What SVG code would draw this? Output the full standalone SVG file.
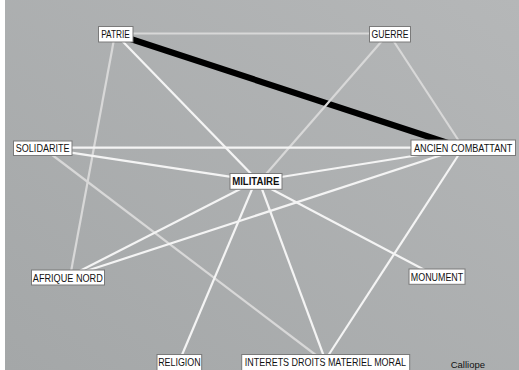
<svg xmlns="http://www.w3.org/2000/svg" width="519" height="370" viewBox="0 0 519 370">
<defs>
<linearGradient id="bg" x1="0" y1="1" x2="1" y2="0">
<stop offset="0" stop-color="#a4a7a8"/>
<stop offset="1" stop-color="#b5b7b8"/>
</linearGradient>
<style>
.e{stroke:#f4f4f4;stroke-width:2.2;fill:none}
.l{stroke:#d8d8d8;stroke-width:2.2;fill:none}
.k{stroke:#000;stroke-width:6.2;fill:none}
.b{fill:#fff;stroke:#7a7a7a;stroke-width:1}
.t{font-family:"Liberation Sans",Arial,sans-serif;font-size:11px;fill:#111;text-anchor:middle}
.m{font-weight:bold}
</style>
</defs>
<rect x="0" y="0" width="519" height="370" fill="#fff"/>
<rect x="5" y="0" width="514" height="370" fill="url(#bg)"/>
<g id="connectors">
<line class="k" x1="115.5" y1="34" x2="463" y2="148"/>
<line class="l" x1="115.5" y1="33.5" x2="390" y2="33.5"/>
<line class="e" x1="115.5" y1="34" x2="258" y2="181"/>
<line class="l" x1="115" y1="34" x2="70" y2="277"/>
<line class="l" x1="389" y1="34" x2="463.5" y2="148"/>
<line class="l" x1="388" y1="34" x2="260" y2="181"/>
<line class="e" x1="43" y1="147.7" x2="463" y2="147.7"/>
<line class="e" x1="43" y1="148.3" x2="256" y2="180.7"/>
<line class="l" x1="43" y1="148" x2="325" y2="362"/>
<line class="e" x1="463" y1="148" x2="256" y2="181"/>
<line class="e" x1="463" y1="148" x2="68" y2="277"/>
<line class="e" x1="463" y1="148" x2="324" y2="362"/>
<line class="e" x1="256" y1="181" x2="68" y2="277"/>
<line class="e" x1="256" y1="181" x2="437" y2="276.5"/>
<line class="e" x1="255.5" y1="181" x2="179" y2="362"/>
<line class="e" x1="259" y1="181" x2="326" y2="362"/>
</g>
<g id="node-patrie"><rect class="b" x="98.5" y="26.5" width="34.5" height="15.5"/><text class="t" transform="translate(115.5 37.7) scale(0.755 1)">PATRIE</text></g>
<g id="node-guerre"><rect class="b" x="369.5" y="26.5" width="41" height="15.5"/><text class="t" transform="translate(390 37.7) scale(0.786 1)">GUERRE</text></g>
<g id="node-solidarite"><rect class="b" x="13.5" y="141" width="58.5" height="14.5"/><text class="t" transform="translate(42.7 151.7) scale(0.826 1)">SOLIDARITE</text></g>
<g id="node-ancien-combattant"><rect class="b" x="411" y="140" width="104.5" height="15.5"/><text class="t" transform="translate(463.2 151.7) scale(0.83 1)">ANCIEN COMBATTANT</text></g>
<g id="node-militaire"><rect class="b" x="230" y="173.5" width="52" height="15.8"/><text class="t m" transform="translate(255.8 184.6) scale(0.873 1)">MILITAIRE</text></g>
<g id="node-afrique-nord"><rect class="b" x="31.5" y="270" width="73" height="15"/><text class="t" transform="translate(67.8 281.7) scale(0.83 1)">AFRIQUE NORD</text></g>
<g id="node-monument"><rect class="b" x="409" y="269" width="56" height="15.3"/><text class="t" transform="translate(437 280.7) scale(0.81 1)">MONUMENT</text></g>
<g id="node-religion"><rect class="b" x="157" y="354.5" width="44.7" height="16"/><text class="t" transform="translate(179.4 365.7) scale(0.81 1)">RELIGION</text></g>
<g id="node-interets"><rect class="b" x="241.7" y="354.5" width="168" height="16"/><text class="t" transform="translate(325.4 365.7) scale(0.816 1)">INTERETS DROITS MATERIEL MORAL</text></g>
<text x="450.7" y="367.7" font-family="'Liberation Sans',Arial,sans-serif" font-size="9.5" fill="#111">Calliope</text>
</svg>
